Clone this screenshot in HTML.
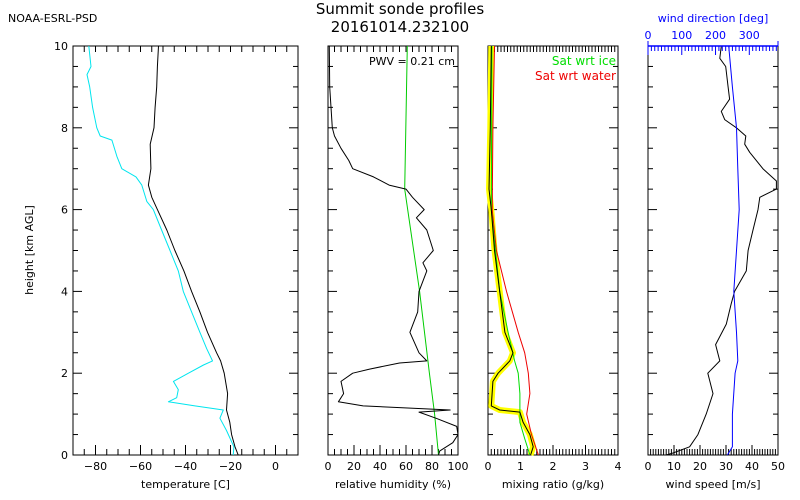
<!DOCTYPE html>
<html><head><meta charset="utf-8">
<style>
body{margin:0;background:#fff;}
svg{display:block;font-family:"DejaVu Sans","Liberation Sans",sans-serif;}
</style></head>
<body>
<svg id="chart" width="800" height="500" viewBox="0 0 800 500">
<text x="8" y="22" font-size="11">NOAA-ESRL-PSD</text>
<text x="400" y="14" font-size="15" text-anchor="middle">Summit sonde profiles</text>
<text x="400" y="32" font-size="15" text-anchor="middle">20161014.232100</text>
<text x="33" y="250" font-size="11" text-anchor="middle" transform="rotate(-90 33 250)">height [km AGL]</text>
</svg>
<script>
const tempH = [0,0.2,0.5,0.8,1.1,1.5,2,2.3,2.5,3,3.5,4,4.5,5,5.5,6,6.3,6.6,7,7.6,8,8.5,9,9.5,10];
const tempVals = [-16.6,-18,-19.5,-20.3,-21.8,-21.3,-22.8,-24.4,-26.2,-30.2,-33.6,-37.3,-40.7,-44.7,-48.3,-52.5,-55,-56.5,-55.4,-55.7,-54,-53.5,-52.8,-52.5,-52];
const dewH = [0,0.2,0.6,0.9,1.1,1.2,1.3,1.4,1.6,1.8,2.0,2.2,2.3,2.6,3,3.5,4,4.5,5,5.5,6,6.2,6.6,6.8,7,7.3,7.7,7.8,8,8.5,9,9.3,9.5,10];
const dewVals = [-18.8,-18.5,-21.8,-24.7,-23.2,-35.8,-47.6,-43.9,-43.2,-45.4,-38.7,-32,-28,-30.6,-33.6,-37.3,-41,-43.2,-46.9,-50.6,-54.3,-57.2,-59.4,-62,-68.3,-70.5,-72.7,-77.9,-79.4,-81.3,-82.6,-83.8,-82,-83];
const rhH = [0,0.1,0.3,0.5,0.7,0.9,1.05,1.1,1.2,1.3,1.5,1.8,2,2.1,2.25,2.3,2.5,3,3.5,4,4.5,4.7,5,5.5,5.8,6,6.3,6.5,6.6,6.8,7,7.2,7.5,7.8,8,9,10];
const rhVals = [85,86,96,100,99,83,70,94,27,8,12,10,19,32,55,76,70,63,69,70,76,73,81,76,68,74,65,60,47,35,19,16,10,5,3.3,1.3,1];
const rhIceH = [0,1,2,4,6.5,10];
const rhIceVals = [85,82,78,70.5,59,61];
const mrH = [0,0.2,0.5,0.8,1.05,1.1,1.2,1.8,2.0,2.3,2.5,3,4,5,6,6.5,8,10];
const mrVals = [1.31,1.39,1.29,1.08,0.98,0.36,0.1,0.15,0.31,0.67,0.77,0.52,0.36,0.2,0.1,0.03,0.07,0.1];
const mrIceH = [0,0.4,0.8,1.1,1.5,2,2.3,3,4,6,10];
const mrIceVals = [1.29,1.13,0.98,0.98,0.98,0.93,0.82,0.62,0.36,0.1,0.12];
const mrWaterH = [0,0.5,1,1.5,2,2.5,3,4,5,6,8,10];
const mrWaterVals = [1.55,1.34,1.19,1.29,1.24,1.13,0.93,0.57,0.26,0.13,0.15,0.2];
const wsH = [0,0.05,0.2,0.5,1,1.5,2,2.3,2.7,3.2,3.7,4,4.5,5,5.5,6,6.3,6.5,6.7,7,7.4,7.6,7.8,8,8.2,8.4,8.7,9,9.5,9.7,10];
const wsVals = [7,9.6,16,19.2,22.4,25,23,27.6,26,30.1,32,33.3,37.8,38.5,40.4,42.3,43,49.4,49.4,44.2,39.1,37.2,37.6,34,29.5,28.2,31.4,30.8,29.9,27.6,28.2];
const wdH = [0,0.2,1,2,2.3,3,4,5,6,7,8,9,10];
const wdVals = [235,250,250,258,266,262,254,262,270,266,262,250,239];
const tempTicks = [-80,-60,-40,-20,0];
const rhTicks = [0,20,40,60,80,100];
const mrTicks = [0,1,2,3,4];
const wsTicks = [0,10,20,30,40,50];
const wdTicks = [0,100,200,300];
const yTicks = [0,2,4,6,8,10];

const svg = document.getElementById('chart');
const NS = 'http://www.w3.org/2000/svg';
const Y0 = 455, Y1 = 46;
const yScale = h => Y0 - (h/10)*(Y0-Y1);
function mk(tag, attrs, parent){ const e=document.createElementNS(NS,tag); for(const k in attrs) e.setAttribute(k,attrs[k]); (parent||svg).appendChild(e); return e; }
function panel(name, x0, x1, min, max, ticks, minorStep, title, showY){
  const g = mk('g',{});
  
  
  const xs = v => x0 + (v-min)/(max-min)*(x1-x0);
  const r = mk('rect',{x:x0,y:Y1,width:x1-x0,height:Y0-Y1,fill:'none',stroke:'#000','stroke-width':1},g);
  
  
  for(let v=min; v<=max+1e-9; v+=minorStep){ const x=xs(v);
    mk('line',{x1:x,x2:x,y1:Y0,y2:Y0-6,stroke:'#000'},g);
    if(name!=='wind') mk('line',{x1:x,x2:x,y1:Y1,y2:Y1+6,stroke:'#000'},g); }
  ticks.forEach(v=>{ const x=xs(v);
    mk('line',{x1:x,x2:x,y1:Y0,y2:Y0-10,stroke:'#000'},g);
    const t=mk('text',{x:x,y:Y0+15,'font-size':11,'text-anchor':'middle'},g); t.textContent=(v<0?'\u2212'+(-v):v);
    
    
  });
  for(let h=0; h<=10; h+=0.5){ const y=yScale(h); const L=(h%2===0)?9:5;
    mk('line',{x1:x0,x2:x0+L,y1:y,y2:y,stroke:'#000'},g);
    mk('line',{x1:x1,x2:x1-L,y1:y,y2:y,stroke:'#000'},g); }
  if(showY) yTicks.forEach(h=>{ const t=mk('text',{x:x0-5,y:yScale(h)+4,'font-size':11,'text-anchor':'end'},g); t.textContent=h;
    
     });
  const tt=mk('text',{x:(x0+x1)/2,y:Y0+33,'font-size':11,'text-anchor':'middle'},g); tt.textContent=title;
  
  
  return {g, xs};
}
function line(p, hs, vals, color, w, name){
  const d = vals.map((v,i)=>(i?'L':'M')+p.xs(v).toFixed(1)+','+yScale(hs[i]).toFixed(1)).join('');
  const e = mk('path',{d:d,fill:'none',stroke:color,'stroke-width':w,'stroke-linejoin':'round'},p.g);
  
  
}
const p1 = panel('temperature',73,298,-90,10,tempTicks,5,'temperature [C]',true);
line(p1,dewH,dewVals,'#00e5ee',1,'dewpoint-line');
line(p1,tempH,tempVals,'#000',1,'temperature-line');
const p2 = panel('humidity',328,458,0,100,rhTicks,5,'relative humidity (%)',false);
line(p2,rhIceH,rhIceVals,'#00cc00',1,'rh-ice-line');
line(p2,rhH,rhVals,'#000',1,'rh-line');
let t = mk('text',{x:455,y:65,'font-size':11,'text-anchor':'end'},p2.g); t.textContent='PWV = 0.21 cm';


const p3 = panel('mixing',488,618,0,4,mrTicks,0.1,'mixing ratio (g/kg)',false);
line(p3,mrH,mrVals,'#ffff00',6,'mixing-ratio-band');
line(p3,mrWaterH,mrWaterVals,'#ee0000',1,'sat-water-line');
line(p3,mrIceH,mrIceVals,'#00dd00',1,'sat-ice-line');
line(p3,mrH,mrVals,'#000',1,'mixing-ratio-line');
t = mk('text',{x:616,y:65,'font-size':12,'text-anchor':'end',fill:'#00dd00'},p3.g); t.textContent='Sat wrt ice';


t = mk('text',{x:616,y:80,'font-size':12,'text-anchor':'end',fill:'#ee0000'},p3.g); t.textContent='Sat wrt water';


const p4 = panel('wind',648,778,0,50,wsTicks,1,'wind speed [m/s]',false);
line(p4,wsH,wsVals,'#000',1,'wind-speed-line');
const wdMax = 385;
const wdp = {g:p4.g, xs: v => 648 + v/wdMax*130};
line(wdp,wdH,wdVals,'#0000ff',1,'wind-direction-line');
mk('line',{x1:648,x2:778,y1:Y1,y2:Y1,stroke:'#0000ff','stroke-width':1.5},p4.g);
for(let v=0; v<=380; v+=10){ const x=wdp.xs(v); mk('line',{x1:x,x2:x,y1:Y1,y2:Y1+(v%100===0?9:5),stroke:'#0000ff'},p4.g); }
mk('line',{x1:648,x2:648,y1:Y1-5,y2:Y1,stroke:'#0000ff'},p4.g);
mk('line',{x1:778,x2:778,y1:Y1-5,y2:Y1,stroke:'#0000ff'},p4.g);
wdTicks.forEach(v=>{ const e=mk('text',{x:wdp.xs(v),y:Y1-7,'font-size':11,'text-anchor':'middle',fill:'#0000ff'},p4.g); e.textContent=v;
  
   });
t = mk('text',{x:713,y:22,'font-size':11,'text-anchor':'middle',fill:'#0000ff'},p4.g); t.textContent='wind direction [deg]';


</script>
</body></html>
